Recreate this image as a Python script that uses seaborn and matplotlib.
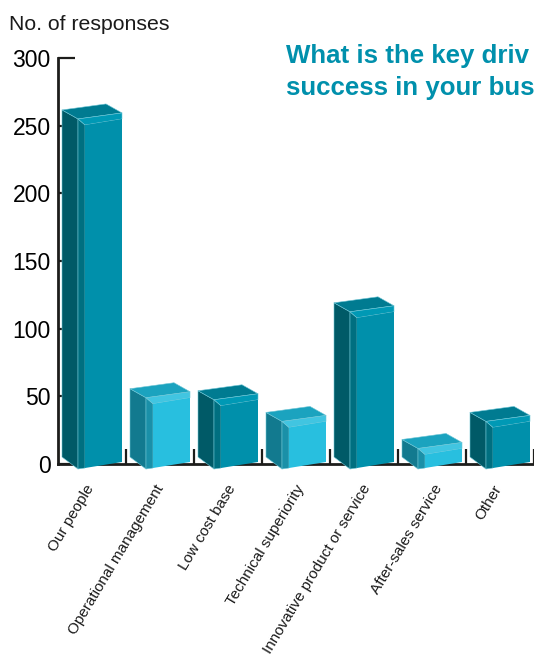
import matplotlib
matplotlib.use("Agg")
import matplotlib.pyplot as plt
from matplotlib.patches import Polygon
from matplotlib.transforms import Affine2D, ScaledTranslation
import pandas as pd
import seaborn as sns

categories = ["Our people", "Operational management", "Low cost base",
              "Technical superiority", "Innovative product or service",
              "After-sales service", "Other"]
responses = [253.5, 47.5, 46, 30, 111, 10, 30]
y_ticks = [0, 50, 100, 150, 200, 250, 300]
title_lines = ["What is the key driv", "success in your bus"]

# Face colours for the two alternating bar shades
dark = dict(front="#0090ab", side="#005a67", bevel_side="#006f80", top="#007b91", bevel_top="#0099b5")
light = dict(front="#28bfdf", side="#127a8f", bevel_side="#1a90a8", top="#1ba3bf", bevel_top="#41c5e1")
shades = [dark, light, dark, light, dark, light, dark]

TEAL = "#0090ac"
INK = "#1d1d1b"
EDGE = "#6fc6d6"

W, H = 534, 662
sns.set_theme(style="white")
plt.rcParams["font.family"] = ["Liberation Sans", "DejaVu Sans"]

fig = plt.figure(figsize=(W / 100, H / 100), dpi=100, facecolor="white")
ax = fig.add_axes([58 / W, (H - 464) / H, (W - 58) / W, (464 - 58) / H])

frame = pd.DataFrame({"category": categories, "responses": responses})
sns.barplot(data=frame, x="category", y="responses", hue="category",
            palette=[s["front"] for s in shades], saturation=1, width=37 / 68,
            legend=False, ax=ax, zorder=5, linewidth=0)

ax.set_xlim(-0.5, 6.5)
ax.set_ylim(0, 300)
PX_X = 68.0                # pixels per category
PX_Y = (464 - 58) / 300.0  # pixels per response


def to_data(i, dx, dy):
    """Category index plus pixel offsets (dy measured upward) to data coordinates."""
    return (i + dx / PX_X, dy / PX_Y)


# Turn each flat bar into the front of an extruded block
bars = sorted(ax.patches, key=lambda p: p.get_x())
slope = (6 / PX_Y) / (37 / PX_X)
for i, (bar, value, shade) in enumerate(zip(bars, responses, shades)):
    right = i + 30 / PX_X
    bar_right = bar.get_x() + bar.get_width()
    # slide the face to the right of the block and tilt it with the perspective
    skew = Affine2D.from_values(1, slope, 0, 1, right - bar_right,
                                2 / PX_Y - slope * bar_right)
    bar.set_transform(skew + ax.transData)
    bar.set_clip_on(False)

    top = value * PX_Y + 2   # height of the front right corner above the baseline
    low_left, low_corner, low_inner = 7, -5, -4
    faces = [
        ("side", [(-30, top + 9), (-14, top), (-14, low_corner), (-30, low_left)]),
        ("bevel_side", [(-14, top), (-7, top - 6), (-7, low_inner), (-14, low_corner)]),
        ("top", [(-30, top + 9), (14, top + 15), (30, top + 6), (-14, top)]),
        ("bevel_top", [(-14, top), (30, top + 6), (30, top), (-7, top - 6)]),
    ]
    for name, corners in faces:
        ax.add_patch(Polygon([to_data(i, dx, dy) for dx, dy in corners],
                             closed=True, facecolor=shade[name], edgecolor=EDGE,
                             linewidth=0.4, joinstyle="round", clip_on=False, zorder=4))

# Axes: left and bottom only, ticks pointing inward
sns.despine(ax=ax, top=True, right=True)
for side in ("left", "bottom"):
    ax.spines[side].set_color(INK)
    ax.spines[side].set_linewidth(2)
ax.set_yticks(y_ticks)
ax.tick_params(axis="y", direction="in", length=12, width=1.6, color=INK,
               labelsize=16.5, labelcolor="black", pad=5.3, left=True)
ax.set_xticks(range(len(categories)))
ax.set_xticks([i + 0.5 for i in range(len(categories))], minor=True)
ax.tick_params(axis="x", which="minor", direction="in", length=11, width=1.6,
               color=INK, bottom=True)
ax.tick_params(axis="x", which="major", length=0, pad=13)
ax.set_xticklabels(categories, rotation=59, ha="right", rotation_mode="anchor",
                   fontsize=11, color="#1a1a1a")
# Nudge each slanted category label so it ends just under its block
for label, shift_px in zip(ax.get_xticklabels(), (-7, -5, -1, -1, -3, 1, -7)):
    nudge = ScaledTranslation(shift_px / 100, 0, fig.dpi_scale_trans)
    label.set_transform(label.get_transform() + nudge)
ax.set_xlabel("")
ax.set_ylabel("")

fig.text(9 / W, 1 - 24.5 / H, "No. of responses", fontsize=15.3, color="#1a1a1a",
         ha="left", va="center")
for line, y_px in zip(title_lines, (56.5, 88.5)):
    fig.text(286 / W, 1 - y_px / H, line, fontsize=18.6, fontweight="bold",
             color=TEAL, ha="left", va="center")

fig.savefig("out.png", dpi=100)
